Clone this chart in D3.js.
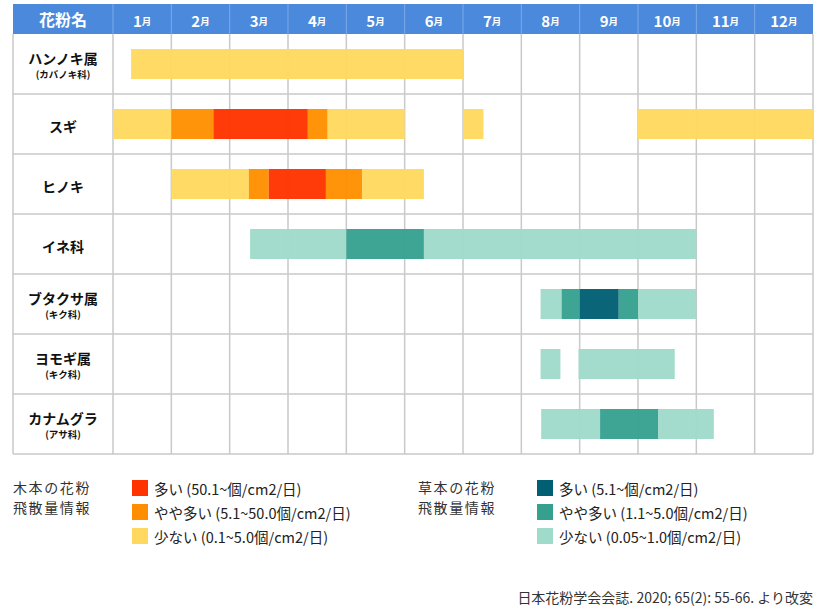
<!DOCTYPE html>
<html>
<head>
<meta charset="utf-8">
<script src="https://cdn.jsdelivr.net/npm/d3@7"></script>
<style>
  body { margin: 0; background: #fff; }
  svg { display: block; font-family: "Noto Sans CJK JP", "Noto Sans", sans-serif; }
</style>
</head>
<body>
<script>
// pollen types (rows)
const plants = ['ハンノキ属', 'スギ', 'ヒノキ', 'イネ科', 'ブタクサ属', 'ヨモギ属', 'カナムグラ'];
const families = ['(カバノキ科)', '', '', '', '(キク科)', '(キク科)', '(アサ科)'];
const months = ['1', '2', '3', '4', '5', '6', '7', '8', '9', '10', '11', '12'];

// season segments per plant: [start month, end month, level] (0 = Jan 1, 12 = Dec 31)
const seasons = [
  [[0.31, 6.0, 'low']],
  [[0, 1.0, 'low'], [1.0, 1.72, 'mid'], [1.72, 3.34, 'high'], [3.34, 3.68, 'mid'], [3.68, 5.0, 'low'],
   [6.0, 6.35, 'low'], [9.0, 12, 'low']],
  [[1.0, 2.33, 'low'], [2.33, 2.67, 'mid'], [2.67, 3.65, 'high'], [3.65, 4.27, 'mid'], [4.27, 5.33, 'low']],
  [[2.35, 4.0, 'low'], [4.0, 5.33, 'mid'], [5.33, 10.0, 'low']],
  [[7.33, 7.69, 'low'], [7.69, 8.0, 'mid'], [8.0, 8.67, 'high'], [8.67, 9.0, 'mid'], [9.0, 10.0, 'low']],
  [[7.33, 7.67, 'low'], [7.98, 9.63, 'low']],
  [[7.34, 8.35, 'low'], [8.35, 9.35, 'mid'], [9.35, 10.3, 'low']]
];
const woodyCount = 3; // first three rows are trees

const levels = ['high', 'mid', 'low'];
const woodColors = ['#ff3300', '#ff8f00', '#ffd95f'];
const herbColors = ['#005f73', '#36a08f', '#9fdbca'];
const woodLabels = ['多い (50.1~個/cm2/日)', 'やや多い (5.1~50.0個/cm2/日)', '少ない (0.1~5.0個/cm2/日)'];
const herbLabels = ['多い (5.1~個/cm2/日)', 'やや多い (1.1~5.0個/cm2/日)', '少ない (0.05~1.0個/cm2/日)'];

const width = 821, height = 612;
const left = 13, labelRight = 113, right = 813;
const headTop = 4, headBottom = 34, bodyBottom = 454;

const svg = d3.select('body').append('svg')
  .attr('width', width).attr('height', height);

const x = d3.scaleLinear().domain([0, 12]).range([labelRight, right]);
const y = d3.scaleBand().domain(d3.range(plants.length)).range([headBottom, bodyBottom]);
const woodColor = d3.scaleOrdinal(levels, woodColors);
const herbColor = d3.scaleOrdinal(levels, herbColors);

// header
svg.append('rect')
  .attr('x', left).attr('y', headTop)
  .attr('width', right - left).attr('height', headBottom - headTop)
  .attr('fill', '#4a89dc');

svg.append('g')
  .selectAll('line')
  .data(d3.range(0, 12))
  .join('line')
    .attr('x1', d => x(d)).attr('x2', d => x(d))
    .attr('y1', headTop).attr('y2', headBottom)
    .attr('stroke', '#7eaae6').attr('stroke-width', 1);

svg.append('text')
  .attr('x', (left + labelRight) / 2).attr('y', 19)
  .attr('text-anchor', 'middle').attr('dominant-baseline', 'central')
  .attr('fill', '#fff').attr('font-weight', 'bold').attr('font-size', 16)
  .text('花粉名');

const mt = svg.append('g')
  .selectAll('text')
  .data(months)
  .join('text')
    .attr('x', (d, i) => (x(i) + x(i + 1)) / 2)
    .attr('y', 20)
    .attr('text-anchor', 'middle').attr('dominant-baseline', 'central')
    .attr('fill', '#fff').attr('font-weight', 'bold');
mt.append('tspan').attr('font-size', 15).text(d => d);
mt.append('tspan').attr('font-size', 9.5).attr('dy', 1).text('月');

// grid
const grid = svg.append('g').attr('stroke', '#c9c9c9').attr('stroke-width', 1.5);
grid.selectAll('.v')
  .data(d3.range(0, 13))
  .join('line')
    .attr('x1', d => x(d)).attr('x2', d => x(d))
    .attr('y1', headBottom).attr('y2', bodyBottom);
grid.selectAll('.h')
  .data(d3.range(1, plants.length + 1))
  .join('line')
    .attr('x1', left).attr('x2', right)
    .attr('y1', d => y(0) + d * y.bandwidth()).attr('y2', d => y(0) + d * y.bandwidth());
grid.append('line')
  .attr('x1', left).attr('x2', left)
  .attr('y1', headBottom).attr('y2', bodyBottom);

// bars
const barH = 30;
const segs = seasons.flatMap((list, i) => list.map(s => ({row: i, start: s[0], end: s[1], level: s[2]})));
svg.append('g')
  .selectAll('rect')
  .data(segs)
  .join('rect')
    .attr('x', d => x(d.start))
    .attr('width', d => x(d.end) - x(d.start))
    .attr('y', d => y(d.row) + (y.bandwidth() - barH) / 2)
    .attr('height', barH)
    .attr('fill', d => d.row < woodyCount ? woodColor(d.level) : herbColor(d.level))
    .attr('fill-opacity', 0.96);

// row labels
const lab = svg.append('g')
  .selectAll('g')
  .data(plants)
  .join('g')
    .attr('transform', (d, i) => `translate(${(left + labelRight) / 2},${y(i) + y.bandwidth() / 2})`);
lab.append('text')
  .attr('y', (d, i) => families[i] ? -6 : 2)
  .attr('text-anchor', 'middle').attr('dominant-baseline', 'central')
  .attr('font-weight', 'bold').attr('font-size', 14).attr('fill', '#111')
  .text(d => d);
lab.append('text')
  .attr('y', 9.5)
  .attr('text-anchor', 'middle').attr('dominant-baseline', 'central')
  .attr('font-weight', 'bold').attr('font-size', 9.5).attr('fill', '#111')
  .text((d, i) => families[i]);

// legends
const legend = (gx, title, colors, labels) => {
  const g = svg.append('g');
  g.selectAll('.t')
    .data(title)
    .join('text')
      .attr('x', gx).attr('y', (d, i) => 487 + i * 20)
      .attr('dominant-baseline', 'central')
      .attr('font-size', 14).attr('letter-spacing', 1.6).attr('fill', '#333')
      .text(d => d);
  const item = g.selectAll('.item')
    .data(labels)
    .join('g')
      .attr('transform', (d, i) => `translate(${gx + 119},${480 + i * 24})`);
  item.append('rect')
    .attr('width', 16).attr('height', 16)
    .attr('fill', (d, i) => colors[i]);
  item.append('text')
    .attr('x', 22).attr('y', 8.5)
    .attr('dominant-baseline', 'central')
    .attr('font-size', 14.5).attr('fill', '#222')
    .text(d => d);
};
legend(13, ['木本の花粉', '飛散量情報'], woodColors, woodLabels);
legend(418, ['草本の花粉', '飛散量情報'], herbColors, herbLabels);

svg.append('text')
  .attr('x', right).attr('y', 597)
  .attr('text-anchor', 'end').attr('dominant-baseline', 'central')
  .attr('font-size', 14).attr('fill', '#333')
  .text('日本花粉学会会誌. 2020; 65(2): 55-66. より改変');
</script>
</body>
</html>
